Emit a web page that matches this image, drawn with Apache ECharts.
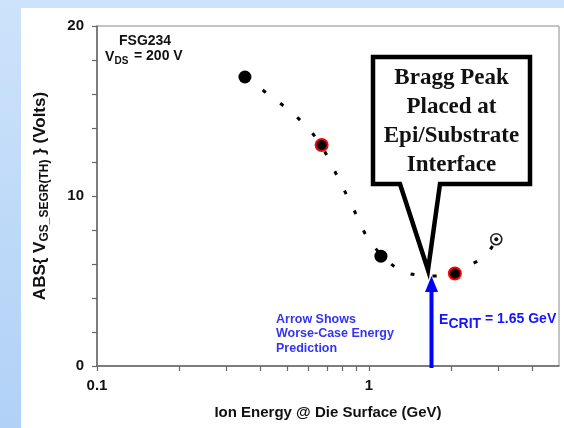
<!DOCTYPE html>
<html><head><meta charset="utf-8">
<script src="https://cdn.jsdelivr.net/npm/echarts@6/dist/echarts.min.js"></script>
<style>
html,body{margin:0;padding:0;}
body{width:564px;height:428px;position:relative;overflow:hidden;background:linear-gradient(180deg,#cde3fb 0%,#bdd9f8 55%,#b1d1f7 100%);}
#panel{position:absolute;left:21px;top:8px;right:0;bottom:0;background:#fff;}
#chart{position:absolute;left:0;top:0;width:564px;height:428px;}
</style></head><body>
<div id="panel"></div><div id="chart"></div>
<script>
// Measured points (Ion energy GeV, |VGS_SEGR(TH)| V)
const blackEnergy = [0.35, 1.107];
const blackVolts  = [17, 6.46];
const redEnergy   = [0.67, 2.07];
const redVolts    = [13, 5.44];
const openEnergy  = [2.94];
const openVolts   = [7.46];
// Dotted fit curve
const curveEnergy = [0.35, 0.382, 0.437, 0.509, 0.593, 0.668, 0.738, 0.852, 0.922, 0.99, 1.15, 1.32, 1.51, 1.76, 2.08, 2.17, 2.65, 2.94];
const curveVolts  = [17.0, 16.56, 15.85, 15.03, 14.03, 12.96, 11.66, 9.65, 8.53, 7.53, 6.3, 5.6, 5.35, 5.29, 5.47, 5.7, 6.42, 7.47];
// Axis ticks
const xTickValues  = [0.1, 0.2, 0.3, 0.4, 0.5, 0.6, 0.7, 0.8, 0.9, 1, 2, 3, 4];
const xLabelValues = [0.1, 1];
const yLabelValues = [0, 10, 20];

const zip = (a, b) => a.map((v, i) => [v, b[i]]);
const SANS = '"Liberation Sans", Arial, sans-serif';
const SERIF = '"Liberation Serif", "Times New Roman", serif';
const chart = echarts.init(document.getElementById('chart'));
chart.setOption({
  animation: false,
  grid: {left: 97, right: 5, top: 26, bottom: 62, outerBoundsMode: 'none', containLabel: false,
    show: true, borderColor: '#8a8a8a', borderWidth: 1, backgroundColor: 'transparent'},
  xAxis: {
    type: 'log', logBase: 10, min: 0.1, max: 5,
    name: 'Ion Energy @ Die Surface (GeV)', nameLocation: 'middle', nameGap: 39,
    nameTextStyle: {fontFamily: SANS, fontWeight: 'bold', fontSize: 15, color: '#111'},
    axisLine: {lineStyle: {color: '#666', width: 1.5}},
    axisTick: {show: true, length: 5, inside: false, customValues: xTickValues, lineStyle: {color: '#666', width: 1.2}},
    minorTick: {show: false},
    axisLabel: {customValues: xLabelValues, margin: 12, fontFamily: SANS, fontWeight: 'bold', fontSize: 15, color: '#111', formatter: v => String(v)},
    splitLine: {show: false}
  },
  yAxis: {
    type: 'value', min: 0, max: 20, interval: 2,
    name: 'ABS{ V{b|GS_SEGR(TH)} } (Volts)', nameLocation: 'middle', nameGap: 45,
    nameTextStyle: {fontFamily: SANS, fontWeight: 'bold', fontSize: 17, color: '#111', lineHeight: 24,
      rich: {b: {fontFamily: SANS, fontWeight: 'bold', fontSize: 12, color: '#111', lineHeight: 24, padding: [9, 0, 0, 0]}}},
    axisLine: {show: true, lineStyle: {color: '#666', width: 1.5}},
    axisTick: {show: true, length: 5, inside: false, lineStyle: {color: '#666', width: 1.2}},
    axisLabel: {margin: 13, fontFamily: SANS, fontWeight: 'bold', fontSize: 15, color: '#111',
      formatter: v => (yLabelValues.indexOf(v) >= 0 ? String(v) : '')},
    splitLine: {show: false}
  },
  series: [
    {type: 'line', data: zip(curveEnergy, curveVolts), smooth: 0.4, showSymbol: false, symbol: 'none', z: 2,
      lineStyle: {color: '#000', width: 3, type: [4, 18], cap: 'butt'}},
    {type: 'scatter', data: zip(blackEnergy, blackVolts), symbol: 'circle', symbolSize: 13, z: 3,
      itemStyle: {color: '#000', opacity: 1}},
    {type: 'scatter', data: zip(redEnergy, redVolts), symbol: 'circle', symbolSize: 12, z: 3,
      itemStyle: {color: '#000', borderColor: '#ff0000', borderWidth: 2, opacity: 1}},
    {type: 'scatter', data: zip(openEnergy, openVolts), symbol: 'circle', symbolSize: 11, z: 3,
      itemStyle: {color: '#fff', borderColor: '#222', borderWidth: 1.6, opacity: 1}},
    {type: 'scatter', data: zip(openEnergy, openVolts), symbol: 'circle', symbolSize: 4, z: 4,
      itemStyle: {color: '#111', opacity: 1}}
  ],
  graphic: [
    {type: 'polygon', z: 10, shape: {points: [[373, 57], [530, 57], [530, 184], [440, 184], [428, 270], [400, 184], [373, 184]]},
      style: {fill: '#fff', stroke: '#000', lineWidth: 4.5, lineJoin: 'miter'}},
    {type: 'text', z: 11, x: 451.5, y: 64,
      style: {text: 'Bragg Peak\nPlaced at\nEpi/Substrate\nInterface', font: 'bold 23px ' + SERIF, fill: '#111',
        textAlign: 'center', textVerticalAlign: 'top', lineHeight: 29}},
    {type: 'line', z: 10, shape: {x1: 431.5, y1: 368, x2: 431.5, y2: 288}, style: {stroke: '#0000ff', lineWidth: 4}},
    {type: 'polygon', z: 10, shape: {points: [[425, 292], [438, 292], [431.5, 276]]}, style: {fill: '#0000ff'}},
    {type: 'text', z: 10, x: 439, y: 320, style: {text: 'E', font: 'bold 14px ' + SANS, fill: '#1414ff', textVerticalAlign: 'middle'}},
    {type: 'text', z: 10, x: 448.5, y: 324, style: {text: 'CRIT', font: 'bold 14px ' + SANS, fill: '#1414ff', textVerticalAlign: 'middle'}},
    {type: 'text', z: 10, x: 485, y: 319, style: {text: '= 1.65 GeV', font: 'bold 14px ' + SANS, fill: '#1414ff', textVerticalAlign: 'middle'}},
    {type: 'text', z: 10, x: 276, y: 312,
      style: {text: 'Arrow Shows\nWorse-Case Energy\nPrediction', font: 'bold 12.5px ' + SANS, fill: '#3434f4',
        textVerticalAlign: 'top', lineHeight: 14.5}},
    {type: 'text', z: 10, x: 119, y: 41, style: {text: 'FSG234', font: 'bold 14px ' + SANS, fill: '#111', textVerticalAlign: 'middle'}},
    {type: 'text', z: 10, x: 105, y: 57, style: {text: 'V', font: 'bold 14px ' + SANS, fill: '#111', textVerticalAlign: 'middle'}},
    {type: 'text', z: 10, x: 114.5, y: 61.5, style: {text: 'DS', font: 'bold 10px ' + SANS, fill: '#111', textVerticalAlign: 'middle'}},
    {type: 'text', z: 10, x: 134, y: 56.5, style: {text: '= 200 V', font: 'bold 14px ' + SANS, fill: '#111', textVerticalAlign: 'middle'}}
  ]
});
</script>
</body></html>
